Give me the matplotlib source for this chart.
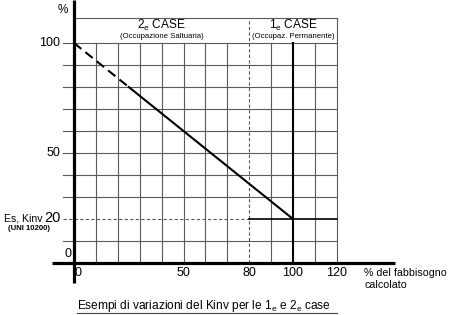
import numpy as np
import matplotlib
matplotlib.use("Agg")
import matplotlib.pyplot as plt

plt.rcParams['font.family'] = ['Liberation Sans', 'DejaVu Sans']
plt.rcParams['mathtext.fontset'] = 'custom'
plt.rcParams['mathtext.rm'] = 'Liberation Sans'
plt.rcParams['mathtext.it'] = 'Liberation Sans:italic'

# ---- data ----
x_tick_values = [0, 50, 80, 100, 120]
x_tick_labels = ["0", "50", "80", "100", "120"]
y_tick_values = [100, 50, 0]
y_tick_labels = ["100", "50", "0"]
kinv_example = 20
dashed_x = [0, 25]
dashed_y = [100, 80]
solid_x = [25, 100]
solid_y = [80, 20]
threshold_x = 80
full_x = 100
x_max = 120
y_max = 100
header_top = 111.5

GRID = '#5a5a5a'

fig = plt.figure(figsize=(4.5, 3.15), dpi=100)
ax = fig.add_axes([0, 0, 1, 1])
ax.set_xlim(-74 / 2.19, (450 - 74) / 2.19)
ax.set_ylim(-(315 - 263) / 2.2, 263 / 2.2)
ax.axis('off')

# grid
for gx in np.arange(10, x_max + 1, 10):
    if gx == threshold_x or gx == full_x:
        continue
    ax.plot([gx, gx], [0, y_max], color=GRID, lw=0.8, zorder=1)
for gy in np.arange(10, y_max + 1, 10):
    if gy == kinv_example:
        continue
    ax.plot([-5, x_max], [gy, gy], color=GRID, lw=0.8, zorder=1)

# header box
ax.plot([0, x_max], [header_top, header_top], color=GRID, lw=0.8, zorder=1)
ax.plot([x_max, x_max], [y_max, header_top], color=GRID, lw=0.8, zorder=1)

# dashed threshold at 80
ax.plot([threshold_x, threshold_x], [0, header_top], color=GRID, lw=0.8,
        ls=(0, (3, 2)), zorder=1)
# dashed 20 line
ax.plot([-5, threshold_x], [kinv_example, kinv_example], color=GRID, lw=0.8,
        ls=(0, (3, 2)), zorder=1)
ax.plot([threshold_x, x_max], [kinv_example, kinv_example], color='black',
        lw=1.2, zorder=2)
# thick vertical at 100
ax.plot([full_x, full_x], [0, y_max], color='black', lw=1.5, zorder=2)

# Kinv line
ax.plot(dashed_x, dashed_y, color='black', lw=1.5, ls=(0, (4.5, 2.5)), zorder=3)
ax.plot(solid_x, solid_y, color='black', lw=1.5, zorder=3)

# axes
ax.plot([0, 0], [-9, 119.5], color='black', lw=2.3, zorder=4,
        solid_capstyle='butt')
ax.plot([-10, 146.5], [0, 0], color='black', lw=2.3, zorder=4,
        solid_capstyle='butt')

# y labels
ax.text(-5, 115, "%", ha='center', va='center', fontsize=8.5)
for v, lab in zip(y_tick_values, y_tick_labels):
    if v == 0:
        ax.text(-1.3, 4.3, lab, ha='right', va='center', fontsize=9)
    else:
        ax.text(-6.3, v, lab, ha='right', va='center', fontsize=9)
ax.text(-6.3, kinv_example + 0.3, "20", ha='right', va='center', fontsize=10.5)
ax.text(-14.6, kinv_example + 0.3, "Es, Kinv", ha='right', va='center',
        fontsize=7.6)
ax.text(-20.5, 15.6, "(UNI 10200)", ha='center', va='center', fontsize=5.6,
        fontweight='bold')

# x labels
for v, lab in zip(x_tick_values, x_tick_labels):
    xpos = 2 if v == 0 else v
    ax.text(xpos, -4.6, lab, ha='center', va='center', fontsize=9)
ax.text(132.5, -4.4, "% del fabbisogno", ha='left', va='center', fontsize=7.7)
ax.text(132.5, -10.2, "calcolato", ha='left', va='center', fontsize=7.7)

# header texts
ax.text(40, 108.1, r"2$_{\mathrm{e}}$ CASE", ha='center', va='center',
        fontsize=8.6)
ax.text(40, 102.9, "(Occupazione Saltuaria)", ha='center', va='center',
        fontsize=5.6)
ax.text(100, 108.1, r"1$_{\mathrm{e}}$ CASE", ha='center', va='center',
        fontsize=8.6)
ax.text(100, 102.9, "(Occupaz. Permanente)", ha='center', va='center',
        fontsize=5.6)

# caption
ax.text(1.4, -19.6, r"Esempi di variazioni del Kinv per le 1$_{\mathrm{e}}$ e 2$_{\mathrm{e}}$ case",
        ha='left', va='center', fontsize=8.6)
ax.plot([1.2, 120], [-22.8, -22.8], color='#444444', lw=0.8)

fig.savefig("out.png", dpi=100)
